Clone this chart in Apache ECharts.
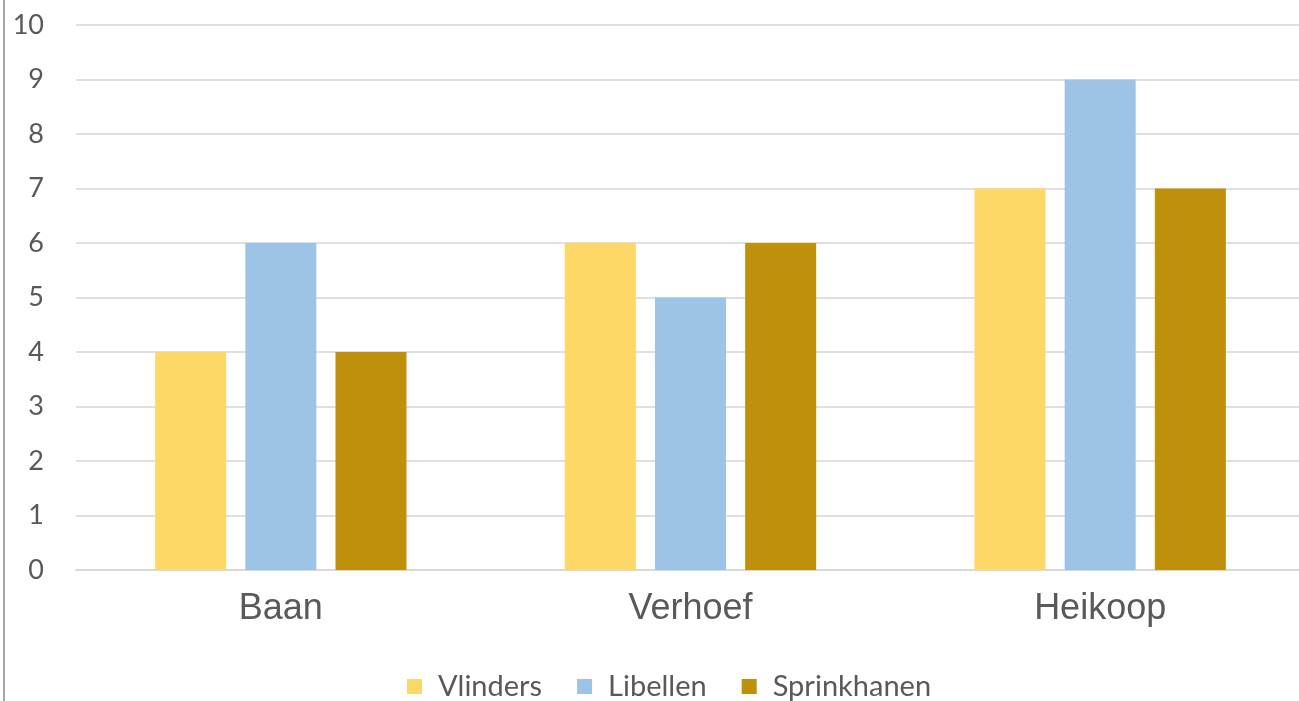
<!DOCTYPE html>
<html>
<head>
<meta charset="utf-8">
<script src="https://cdn.jsdelivr.net/npm/echarts@6/dist/echarts.min.js"></script>
<style>
  html, body { margin: 0; padding: 0; background: #fff; overflow: hidden; }
  #chart { width: 1320px; height: 701px; }
</style>
</head>
<body>
<div id="chart"></div>
<script>
// categories and values
const categories = ['Baan', 'Verhoef', 'Heikoop'];
const vlinders = [4, 6, 7];
const libellen = [6, 5, 9];
const sprinkhanen = [4, 6, 7];

const chart = echarts.init(document.getElementById('chart'));

const barStyle = (name, data, color) => ({
  name: name,
  type: 'bar',
  data: data,
  barWidth: 71,
  barGap: '27%',
  itemStyle: { color: color }
});

chart.setOption({
  backgroundColor: '#fff',
  animation: false,
  textStyle: { fontFamily: 'Lato, sans-serif' },
  grid: { left: 76, width: 1229, top: 25, bottom: 131 },
  graphic: [{
    type: 'rect',
    shape: { x: 3, y: 0, width: 2, height: 701 },
    style: { fill: '#a6a6a6' }
  }],
  legend: {
    left: 402,
    top: 667,
    itemWidth: 15,
    itemHeight: 15,
    itemGap: 35,
    icon: 'rect',
    textStyle: { color: '#595959', fontSize: 29, fontFamily: 'Lato, sans-serif', padding: [0, 0, 0, 11] }
  },
  xAxis: {
    type: 'category',
    data: categories,
    axisLine: { lineStyle: { color: '#d9d9d9', width: 2 } },
    axisTick: { show: false },
    axisLabel: { color: '#595959', fontSize: 36, margin: 21, fontFamily: 'Liberation Sans, Arial, sans-serif' }
  },
  yAxis: {
    type: 'value',
    min: 0,
    max: 10,
    interval: 1,
    axisLine: { show: false },
    axisTick: { show: false },
    axisLabel: { color: '#595959', fontSize: 27, margin: 32 },
    splitLine: { lineStyle: { color: '#e0e0e0', width: 2 } }
  },
  series: [
    barStyle('Vlinders', vlinders, '#FDD867'),
    barStyle('Libellen', libellen, '#9DC3E6'),
    barStyle('Sprinkhanen', sprinkhanen, '#BF900C')
  ]
});
</script>
</body>
</html>
